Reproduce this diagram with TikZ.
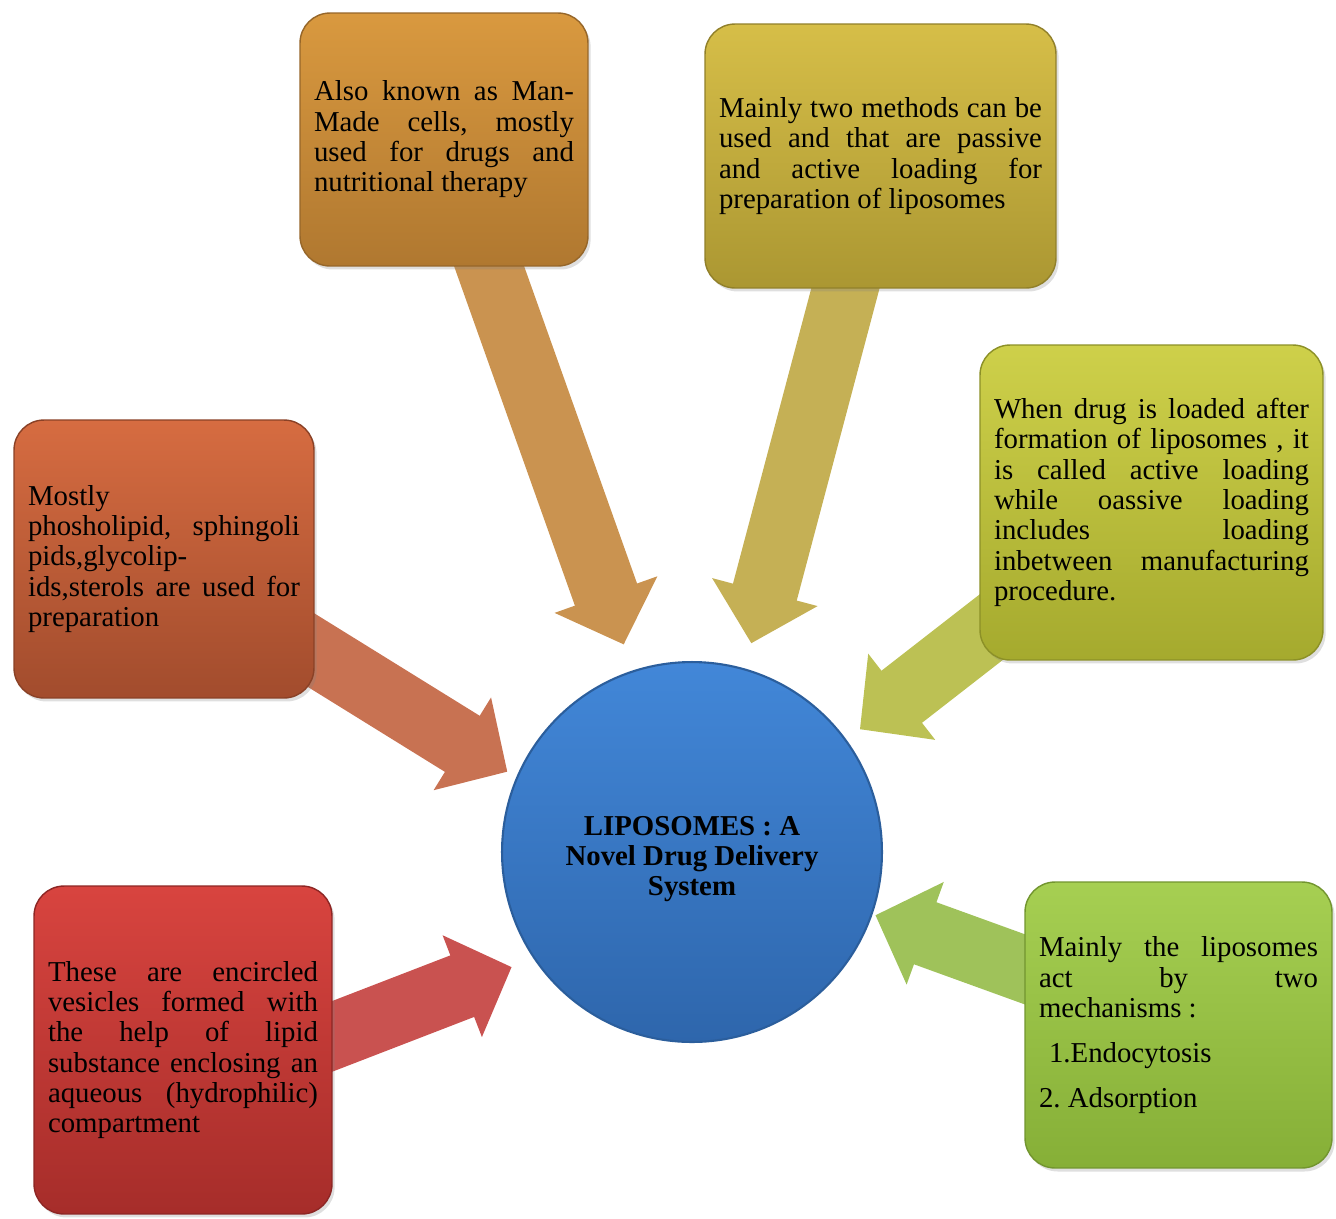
\documentclass[tikz,border=0pt]{standalone}
\usepackage{fontspec}
\setmainfont{Liberation Serif}
\usetikzlibrary{arrows.meta,backgrounds,shadows}

\setlength{\parindent}{0pt}
\frenchspacing
\tolerance=10000
\hbadness=10000
\hyphenpenalty=10000

\definecolor{lTop}{HTML}{D66C41}
\definecolor{lBot}{HTML}{A24C2D}
\definecolor{lArr}{HTML}{C87252}
\definecolor{tlTop}{HTML}{D9993F}
\definecolor{tlBot}{HTML}{B07830}
\definecolor{tlArr}{HTML}{CA9350}
\definecolor{trTop}{HTML}{D6BE48}
\definecolor{trBot}{HTML}{AB9732}
\definecolor{trArr}{HTML}{C5B055}
\definecolor{rTop}{HTML}{CED04A}
\definecolor{rBot}{HTML}{A5AA2E}
\definecolor{rArr}{HTML}{BCC154}
\definecolor{brTop}{HTML}{A6CF52}
\definecolor{brBot}{HTML}{86AF37}
\definecolor{brArr}{HTML}{9FC25A}
\definecolor{blTop}{HTML}{D8443F}
\definecolor{blBot}{HTML}{A62D2A}
\definecolor{blArr}{HTML}{C95250}
\definecolor{lipTop}{HTML}{4287D8}
\definecolor{lipBot}{HTML}{2E66AC}
\definecolor{lipEdge}{HTML}{2B5E9C}

\tikzset{
  infobox/.style 2 args={rounded corners=0.6cm, inner xsep=0.28cm, inner ysep=0pt,
    align=justify, font=\fontsize{16.4}{17.25}\selectfont,
    top color=#1, bottom color=#2, draw=#2!85!black, line width=0.8pt,
    drop shadow={shadow xshift=1.5pt, shadow yshift=-2pt, opacity=0.25}},
  blockarrow/.style={line width=1.32cm, draw=#1,
    -{Triangle[length=1.06cm, width=2.12cm]}},
}

\begin{document}
\begin{tikzpicture}[x=0.02cm, y=-0.02cm]
  \useasboundingbox (0,0) rectangle (1336,1218);

  \node[name=lip, circle, minimum size=7.6cm, inner sep=0pt, outer sep=0pt,
    top color=lipTop, bottom color=lipBot, draw=lipEdge, line width=1.2pt,
    align=center, font=\fontsize{16.4}{17.25}\selectfont\bfseries] at (692,852)
    {\mbox{}\\[1.5pt]LIPOSOMES : A\\Novel Drug Delivery\\System};

  \node[name=tl, infobox={tlTop}{tlBot}, text width=5.2cm, minimum height=5.06cm] at (444,139.5)
    {Also known as Man-\linebreak Made cells, mostly\linebreak used for drugs and\linebreak nutritional therapy};
  \node[name=tr, infobox={trTop}{trBot}, text width=6.46cm, minimum height=5.28cm] at (880.5,156)
    {Mainly two methods can be\linebreak used and that are passive\linebreak and active loading for\linebreak preparation of liposomes};
  \node[name=r, infobox={rTop}{rBot}, text width=6.3cm, minimum height=6.3cm] at (1151.5,502.5)
    {When drug is loaded after\linebreak formation of liposomes , it\linebreak is called active loading\linebreak while oassive loading\linebreak includes loading\linebreak inbetween manufacturing\linebreak procedure.};
  \node[name=l, infobox={lTop}{lBot}, text width=5.44cm, minimum height=5.56cm] at (164,559)
    {Mostly\\ phosholipid, sphingoli\linebreak pids,glycolip-\\ ids,sterols are used for\linebreak preparation};
  \node[name=bl, infobox={blTop}{blBot}, text width=5.4cm, minimum height=6.56cm] at (183,1050)
    {These are encircled\linebreak vesicles formed with\linebreak the help of lipid\linebreak substance enclosing an\linebreak aqueous (hydrophilic)\linebreak compartment};
  \node[name=br, infobox={brTop}{brBot}, text width=5.58cm, minimum height=5.72cm] at (1178.5,1025)
    {\setlength{\parskip}{0.29cm}Mainly the liposomes\linebreak act by two\linebreak mechanisms :\par
     \hspace*{0.2cm}1.Endocytosis\par 2. Adsorption};

  \begin{scope}[on background layer]
    \draw[blockarrow=tlArr, shorten >=0.57cm] (tl.center) -- (lip.108.6);
    \draw[blockarrow=trArr, shorten >=0.54cm] (tr.center) -- (lip.74.4);
    \draw[blockarrow=rArr, shorten >=0.36cm] (r.center) -- (lip.36.9);
    \draw[blockarrow=lArr, shorten >=0.23cm] (l.center) -- (lip.157.4);
    \draw[blockarrow=blArr, shorten >=0.49cm] ([yshift=-0.88cm]bl.center) -- (lip.214.3);
    \draw[blockarrow=brArr, shorten >=0.08cm] (br.center) -- (lip.-19.6);
  \end{scope}
\end{tikzpicture}
\end{document}
